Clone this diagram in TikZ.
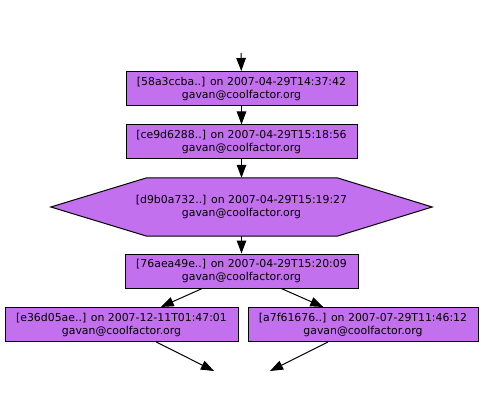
\documentclass[tikz,border=0pt]{standalone}
\usepackage{fontspec}
\setmainfont{DejaVu Sans}
\usetikzlibrary{arrows.meta}
\definecolor{nodefill}{RGB}{195,112,238}
\tikzset{
  commit/.style={draw=black, fill=nodefill, line width=1pt, inner sep=0pt,
    minimum height=34pt, align=center,
    font=\fontsize{10.9pt}{13pt}\selectfont},
  hexlabel/.style={inner sep=0pt, minimum width=381pt, minimum height=58pt, align=center,
    font=\fontsize{10.9pt}{13pt}\selectfont},
  edge/.style={draw=black, line width=1pt, -{Triangle[length=13pt,width=9.5pt]}}
}
\begin{document}
\begin{tikzpicture}[x=1pt,y=-1pt]
\useasboundingbox (0,0) rectangle (484,414);
\coordinate (start) at (241,53);
\node[commit, minimum width=231pt] (n1) at (241.5,88.5) {[58a3ccba..] on 2007-04-29T14:37:42\\gavan@coolfactor.org};
\node[commit, minimum width=231pt] (n2) at (241.5,142) {[ce9d6288..] on 2007-04-29T15:18:56\\gavan@coolfactor.org};
\node[hexlabel] (n3) at (241.5,207) {};
\fill[nodefill, draw=black, line width=1pt] (n3.west) -- ([xshift=96pt]n3.north west) -- ([xshift=-95pt]n3.north east) -- (n3.east) -- ([xshift=-95pt]n3.south east) -- ([xshift=96pt]n3.south west) -- cycle;
\node[hexlabel] (n3t) at (241.5,207) {[d9b0a732..] on 2007-04-29T15:19:27\\gavan@coolfactor.org};
\node[commit, minimum width=233pt] (n4) at (241.5,271) {[76aea49e..] on 2007-04-29T15:20:09\\gavan@coolfactor.org};
\node[commit, minimum width=233pt] (n5) at (121.5,324.5) {[e36d05ae..] on 2007-12-11T01:47:01\\gavan@coolfactor.org};
\node[commit, minimum width=230pt] (n6) at (363,324.5) {[a7f61676..] on 2007-07-29T11:46:12\\gavan@coolfactor.org};
\coordinate (e1) at (214,371);
\coordinate (e2) at (270,371);
\draw[edge] (start) -- (n1);
\draw[edge] (n1) -- (n2);
\draw[edge] (n2) -- (n3);
\draw[edge] (n3) -- (n4);
\draw[edge] (n4) -- (n5);
\draw[edge] (n4) -- (n6);
\draw[edge] (n5) -- (e1);
\draw[edge] (n6) -- (e2);
\end{tikzpicture}
\end{document}
